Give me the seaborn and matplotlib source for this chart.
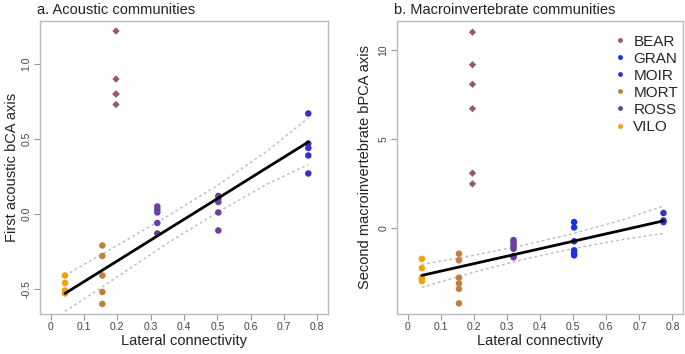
import numpy as np
import pandas as pd
import matplotlib
matplotlib.use('Agg')
import matplotlib.pyplot as plt
import seaborn as sns
from matplotlib.lines import Line2D

# lateral connectivity of each site
x_vilo, x_mort, x_bear, x_ross, x_gran, x_moir = 0.043, 0.155, 0.196, 0.32, 0.503, 0.773

# panel a: first acoustic bCA axis
a_vilo = [-0.41, -0.46, -0.51, -0.52, -0.53]
a_mort = [-0.21, -0.28, -0.41, -0.52, -0.60]
a_bear = [1.22, 0.90, 0.80, 0.80, 0.73]
a_ross = [0.05, 0.03, 0.01, -0.06, -0.13]
a_mid = [0.12, 0.10, 0.08, 0.01, -0.11]
a_moir = [0.67, 0.47, 0.44, 0.39, 0.27]

# panel b: second macroinvertebrate bPCA axis
b_vilo = [-1.75, -2.27, -2.80, -2.90, -3.00]
b_mort = [-1.46, -1.83, -2.81, -3.13, -3.44, -4.25]
b_bear = [11.0, 9.17, 8.07, 6.70, 3.07, 2.47]
b_ross = [-0.69, -0.80, -0.92, -1.05, -1.18, -1.59, -1.66]
b_gran = [0.32, 0.02, -0.76, -1.27, -1.42, -1.55]
b_moir = [0.83, 0.41, 0.32]

# fitted line and confidence limits
fit_x = [0.043, 0.2, 0.35, 0.5, 0.65, 0.773]
a_fit = [-0.53, -0.313, -0.105, 0.102, 0.31, 0.48]
a_hi = [-0.41, -0.21, -0.015, 0.19, 0.42, 0.64]
a_lo = [-0.65, -0.42, -0.195, 0.01, 0.20, 0.33]
b_fit = [-2.68, -2.02, -1.39, -0.76, -0.13, 0.39]
b_hi = [-2.06, -1.55, -0.98, -0.33, 0.45, 1.22]
b_lo = [-3.35, -2.50, -1.78, -1.17, -0.66, -0.32]

sites = ['BEAR', 'GRAN', 'MOIR', 'MORT', 'ROSS', 'VILO']
colors = {'BEAR': '#985a68', 'GRAN': '#1c30e0', 'MOIR': '#3a2fc4',
          'MORT': '#c27f3c', 'ROSS': '#6a3f9e', 'VILO': '#f1a10c'}


def frame(groups):
    rows = []
    for site, x, ys in groups:
        for y in ys:
            rows.append({'site': site, 'x': x, 'y': y})
    return pd.DataFrame(rows)


df_a = frame([('VILO', x_vilo, a_vilo), ('MORT', x_mort, a_mort), ('BEAR', x_bear, a_bear),
              ('ROSS', x_ross, a_ross), ('ROSS', x_gran, a_mid), ('MOIR', x_moir, a_moir)])
df_b = frame([('VILO', x_vilo, b_vilo), ('MORT', x_mort, b_mort), ('BEAR', x_bear, b_bear),
              ('ROSS', x_ross, b_ross), ('GRAN', x_gran, b_gran), ('MOIR', x_moir, b_moir)])

sns.set_theme(style='white')
plt.rcParams['font.family'] = ['Liberation Sans', 'DejaVu Sans']

fig = plt.figure(figsize=(6.85, 3.54), dpi=100)
ax1 = fig.add_axes([0.0584, 0.113, 0.4204, 0.8277])
ax2 = fig.add_axes([0.5796, 0.113, 0.4175, 0.8277])

for ax, df, fit, hi, lo in [(ax1, df_a, a_fit, a_hi, a_lo), (ax2, df_b, b_fit, b_hi, b_lo)]:
    circ = df[df['site'] != 'BEAR']
    bear = df[df['site'] == 'BEAR']
    sns.scatterplot(data=circ, x='x', y='y', hue='site', palette=colors, marker='o',
                    s=22, linewidth=0, ax=ax, legend=False, zorder=3)
    sns.scatterplot(data=bear, x='x', y='y', hue='site', palette=colors, marker='D',
                    s=14, linewidth=0, ax=ax, legend=False, zorder=3)
    ax.plot(fit_x, fit, color='black', lw=2, zorder=4)
    ax.plot(fit_x, hi, color='#bbbbbb', lw=1, ls=(0, (2, 2)), zorder=2)
    ax.plot(fit_x, lo, color='#bbbbbb', lw=1, ls=(0, (2, 2)), zorder=2)
    ax.set_xlim(-0.032, 0.832)
    ax.set_xticks(np.arange(0, 0.81, 0.1))
    ax.set_xticklabels(['0', '0.1', '0.2', '0.3', '0.4', '0.5', '0.6', '0.7', '0.8'])
    ax.set_xlabel('Lateral connectivity', fontsize=10.5, color='#222222', labelpad=1)
    for sp in ax.spines.values():
        sp.set_color('#bbbbbb')
        sp.set_linewidth(1)
    ax.tick_params(axis='both', which='major', length=4, width=0.8, color='#999999',
                   labelsize=7.5, labelcolor='#444444', pad=2, bottom=True, left=True)

ax1.set_ylim(-0.667, 1.287)
ax1.set_yticks([-0.5, 0.0, 0.5, 1.0])
ax1.set_yticklabels(['-0.5', '0.0', '0.5', '1.0'], rotation=90, va='center')
ax1.set_ylabel('First acoustic bCA axis', fontsize=10.5, color='#222222', labelpad=2)
ax1.set_title('a. Acoustic communities', fontsize=10.5, loc='left', x=-0.01, pad=5, color='#222222')

ax2.set_ylim(-4.85, 11.63)
ax2.set_yticks([0, 5, 10])
ax2.set_yticklabels(['0', '5', '10'], rotation=90, va='center')
ax2.set_ylabel('Second macroinvertebrate bPCA axis', fontsize=10.5, color='#222222', labelpad=5)
ax2.set_title('b. Macroinvertebrate communities', fontsize=10.5, loc='left', x=-0.01, pad=5,
              color='#222222')

handles = [Line2D([], [], ls='none', marker='o', color=colors[s], markersize=3.5,
                  markeredgewidth=0) for s in sites]
ax2.legend(handles, sites, loc='upper right', bbox_to_anchor=(1.02, 0.99), frameon=False,
           fontsize=11, handletextpad=0.35, labelspacing=0.2, handlelength=1.0,
           borderaxespad=0.3)

fig.savefig('out.png', dpi=100)
